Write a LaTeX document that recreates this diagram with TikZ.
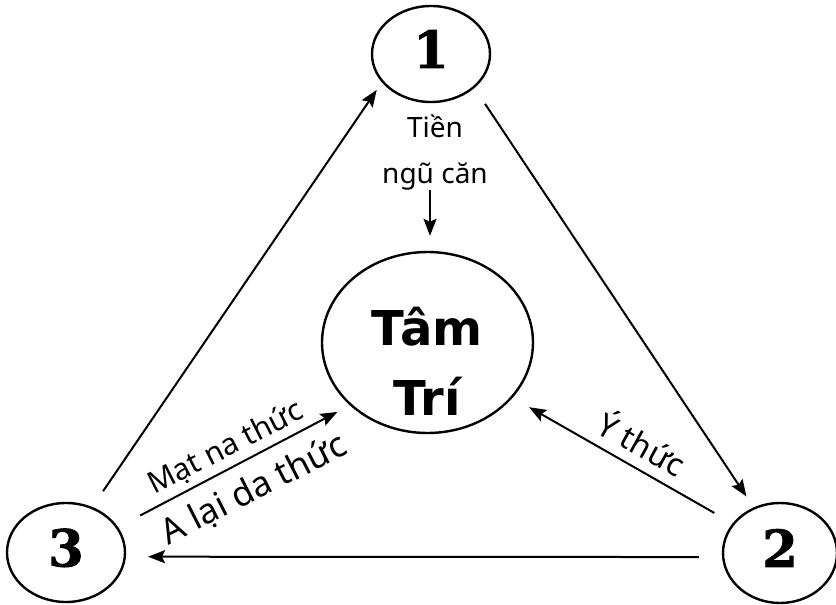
\documentclass[tikz,border=0pt]{standalone}
\usepackage{fontspec}
\setmainfont{Noto Sans}
\newfontfamily\numfont{DejaVu Serif}[BoldFeatures={FakeBold=1.5}]
\newfontfamily\tamfont{DejaVu Sans}
\usetikzlibrary{arrows.meta,shapes.geometric}
\begin{document}
\begin{tikzpicture}[x=1pt,y=-1pt,
  num/.style={ellipse, draw, line width=2.4pt, inner sep=0pt, text depth=10pt,
    font=\numfont\bfseries\fontsize{51}{51}\selectfont},
  mid/.style={ellipse, draw, line width=2.4pt, inner sep=0pt},
  arr/.style={-{Stealth[length=17pt,width=13pt,inset=3pt]}, line width=2pt},
  lab/.style={anchor=base, inner sep=0pt}]
\useasboundingbox (0,0) rectangle (836,605);

\node[num, minimum width=118pt, minimum height=96pt] (n1) at (431,54) {1};
\node[num, minimum width=114pt, minimum height=100pt] (n2) at (780,553) {2};
\node[num, minimum width=118pt, minimum height=99pt] (n3) at (66,552.5) {3};
\node[mid, minimum width=211pt, minimum height=181pt] (C) at (427.5,342.5) {};
\node[lab, font=\tamfont\bfseries\fontsize{48}{70}\selectfont, align=center] (Ct) at (427,415) {Tâm\\Trí};

\node[lab, font=\fontsize{28}{46}\selectfont, align=center] (tien) at (435,183) {Tiền\\ngũ căn};
\draw[arr, shorten >=15pt] ([xshift=-5pt]tien.south) -- ([xshift=-5pt]tien.south |- C.north);

\draw[arr, shorten <=19pt, shorten >=9pt] (n3.60) -- (n1.210);
\draw[arr, shorten <=19pt, shorten >=13pt] (n1.-38) -- (n2.120);
\draw[arr, shorten <=23pt, shorten >=22pt] (n2.184) -- (n3.-4);
\draw[arr, shorten <=25pt, shorten >=14pt] (n3.26) -- (C.219);
\draw[arr, shorten <=21pt, shorten >=19pt] (n2.148) -- (C.-33);

\node[lab, font=\fontsize{30}{36}\selectfont, rotate=27] (mat) at (230,456) {Mạt na thức};
\node[lab, font=\fontsize{35}{42}\selectfont, rotate=27] (alai) at (259,499) {A lại da thức};
\node[lab, font=\fontsize{32}{38}\selectfont, rotate=-29] (yt) at (636,455) {Ý thức};
\end{tikzpicture}
\end{document}
